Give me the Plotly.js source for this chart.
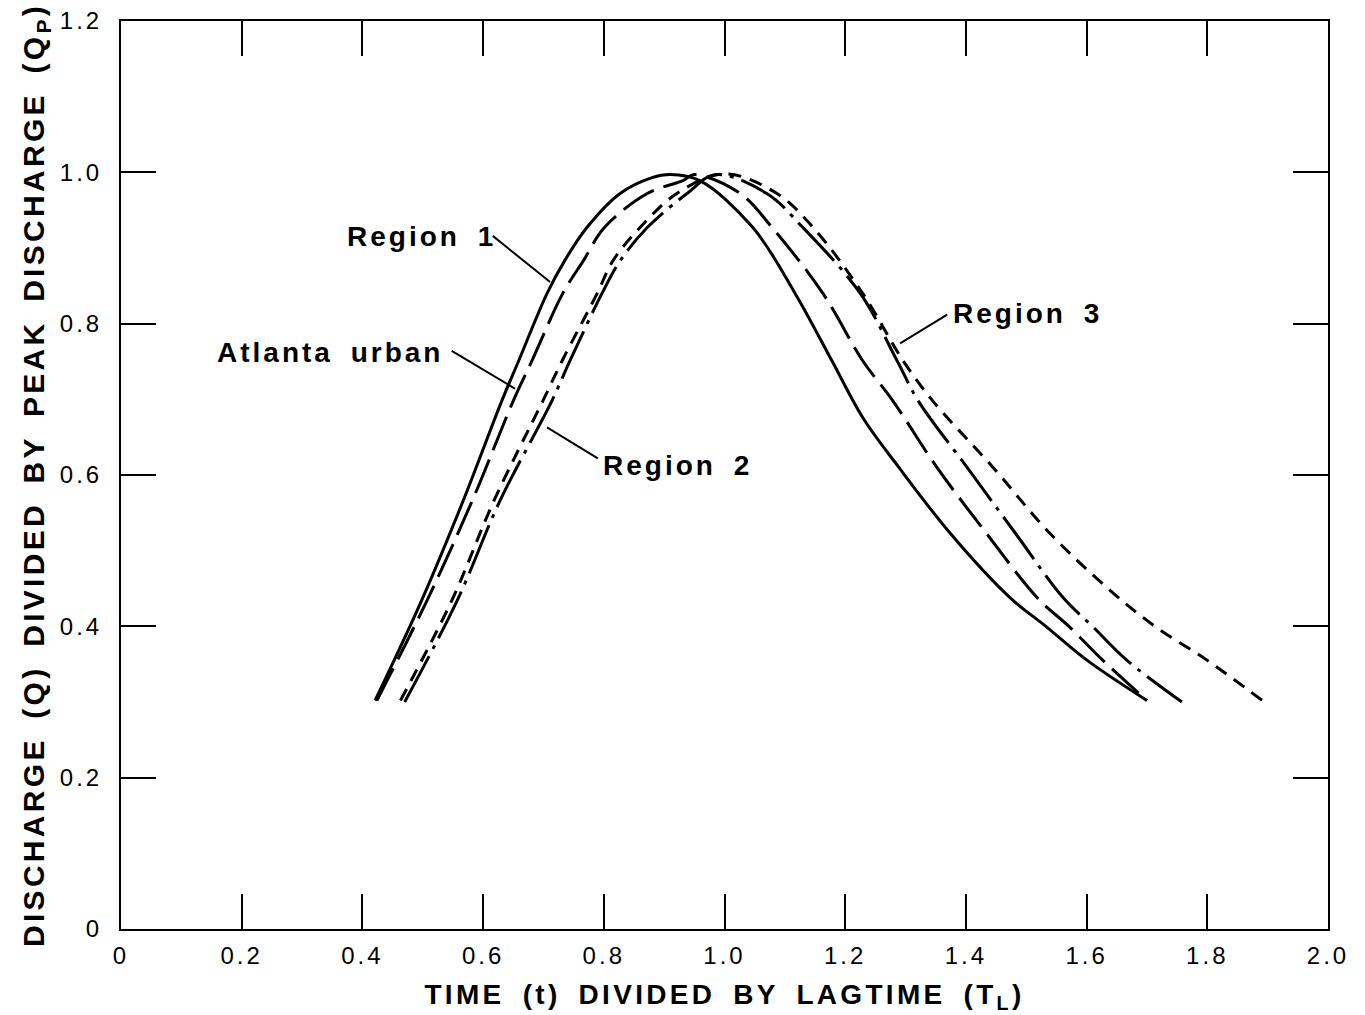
<!DOCTYPE html>
<html>
<head>
<meta charset="utf-8">
<script src="https://cdn.plot.ly/plotly-3.0.1.min.js"></script>
<style>
  html, body { margin: 0; padding: 0; background: #fff; }
  #chart { width: 1365px; height: 1015px; }
  .xtick text, .ytick text { letter-spacing: 3px; }
  .annotation-text { letter-spacing: 3px; word-spacing: 7px; }
  .xtitle, .ytitle { letter-spacing: 3.3px; word-spacing: 7px; }
</style>
</head>
<body>
<div id="chart"></div>
<script>
// ---- Data ----
const region1X = [0.421, 0.498, 0.567, 0.631, 0.659, 0.706, 0.735, 0.772, 0.827, 0.880, 0.910, 0.959, 1.047, 1.117, 1.178, 1.229, 1.289, 1.374, 1.473, 1.534, 1.601, 1.700];
const region1Y = [0.302, 0.434, 0.566, 0.698, 0.751, 0.840, 0.883, 0.927, 0.972, 0.993, 0.997, 0.989, 0.927, 0.840, 0.751, 0.676, 0.610, 0.523, 0.438, 0.399, 0.355, 0.302];

const atlantaX = [0.424, 0.507, 0.582, 0.650, 0.681, 0.732, 0.766, 0.801, 0.872, 0.931, 0.950, 1.026, 1.079, 1.163, 1.229, 1.279, 1.352, 1.434, 1.518, 1.572, 1.627, 1.700];
const atlantaY = [0.302, 0.434, 0.566, 0.698, 0.751, 0.840, 0.883, 0.927, 0.972, 0.989, 0.997, 0.972, 0.927, 0.840, 0.751, 0.698, 0.610, 0.523, 0.438, 0.399, 0.355, 0.302];

const region2X = [0.470, 0.557, 0.628, 0.714, 0.744, 0.797, 0.827, 0.872, 0.938, 0.985, 1.070, 1.130, 1.225, 1.286, 1.321, 1.402, 1.482, 1.561, 1.611, 1.667, 1.758];
const region2Y = [0.300, 0.434, 0.566, 0.698, 0.751, 0.840, 0.883, 0.927, 0.972, 0.997, 0.972, 0.927, 0.840, 0.751, 0.698, 0.610, 0.523, 0.438, 0.399, 0.355, 0.300];

const region3X = [0.463, 0.548, 0.618, 0.699, 0.731, 0.789, 0.815, 0.860, 0.921, 1.000, 1.087, 1.147, 1.229, 1.296, 1.345, 1.445, 1.539, 1.644, 1.715, 1.800, 1.891];
const region3Y = [0.302, 0.434, 0.566, 0.698, 0.751, 0.840, 0.883, 0.927, 0.972, 0.998, 0.972, 0.927, 0.840, 0.751, 0.698, 0.610, 0.523, 0.444, 0.399, 0.355, 0.302];

const xTickVals = [0, 0.2, 0.4, 0.6, 0.8, 1.0, 1.2, 1.4, 1.6, 1.8, 2.0];
const xTickText = ['0', '0.2', '0.4', '0.6', '0.8', '1.0', '1.2', '1.4', '1.6', '1.8', '2.0'];
const yTickVals = [0, 0.2, 0.4, 0.6, 0.8, 1.0, 1.2];
const yTickText = ['0', '0.2', '0.4', '0.6', '0.8', '1.0', '1.2'];

const seriesNames = ['Region 1', 'Atlanta urban', 'Region 2', 'Region 3'];

// ---- Styling / label placement ----
const FONT = 'Liberation Sans, Arial, Helvetica, sans-serif';
const lineStyles = [
  { dash: 'solid' },
  { dash: '36px,10px' },
  { dash: '52px,8px,4px,8px' },
  { dash: '13px,9px' }
];
const xs = [region1X, atlantaX, region2X, region3X];
const ys = [region1Y, atlantaY, region2Y, region3Y];

const traces = xs.map((x, i) => ({
  x: x, y: ys[i], name: seriesNames[i],
  type: 'scatter', mode: 'lines',
  line: { color: '#000', width: 3, dash: lineStyles[i].dash, shape: 'spline', smoothing: 1 },
  hoverinfo: 'skip'
}));

// label text position (left edge, vertical middle) and leader line (from -> to)
const labelPlacement = [
  { tx: 0.371, ty: 0.915, l: [0.616, 0.916, 0.711, 0.855] },
  { tx: 0.156, ty: 0.762, l: [0.548, 0.764, 0.653, 0.714] },
  { tx: 0.795, ty: 0.613, l: [0.706, 0.663, 0.790, 0.622] },
  { tx: 1.375, ty: 0.813, l: [1.369, 0.812, 1.291, 0.774] }
];

const annotations = seriesNames.map((n, i) => ({
  x: labelPlacement[i].tx, y: labelPlacement[i].ty, xref: 'x', yref: 'y',
  text: n, showarrow: false, xanchor: 'left', yanchor: 'middle',
  font: { family: FONT, size: 28, color: '#000', weight: 'bold' }
}));

const shapes = labelPlacement.map(p => ({
  type: 'line', xref: 'x', yref: 'y',
  x0: p.l[0], y0: p.l[1], x1: p.l[2], y1: p.l[3],
  line: { color: '#000', width: 2 }
}));

const axisCommon = {
  showgrid: false, zeroline: false,
  showline: true, linecolor: '#000', linewidth: 2, mirror: 'ticks',
  ticks: 'inside', ticklen: 35, tickwidth: 2, tickcolor: '#000',
  tickmode: 'array',
  tickfont: { family: FONT, size: 24, color: '#000' }
};

const layout = {
  width: 1365, height: 1015,
  margin: { l: 121, r: 37, t: 21, b: 86 },
  paper_bgcolor: '#fff', plot_bgcolor: '#fff',
  showlegend: false,
  xaxis: Object.assign({}, axisCommon, {
    range: [0, 2.0], tickvals: xTickVals, ticktext: xTickText,
    ticklabelstandoff: 4,
    title: { text: 'TIME (t) DIVIDED BY LAGTIME (T<sub>L</sub>)', standoff: 17,
      font: { family: FONT, size: 28, color: '#000', weight: 'bold' } }
  }),
  yaxis: Object.assign({}, axisCommon, {
    range: [0, 1.2], tickvals: yTickVals, ticktext: yTickText,
    ticklabelstandoff: 12,
    title: { text: 'DISCHARGE (Q) DIVIDED BY PEAK DISCHARGE (Q<sub>P</sub>)', standoff: 6,
      font: { family: FONT, size: 30, color: '#000', weight: 'bold' } }
  }),
  annotations: annotations,
  shapes: shapes
};

Plotly.newPlot('chart', traces, layout, { displayModeBar: false, staticPlot: true });
</script>
</body>
</html>
